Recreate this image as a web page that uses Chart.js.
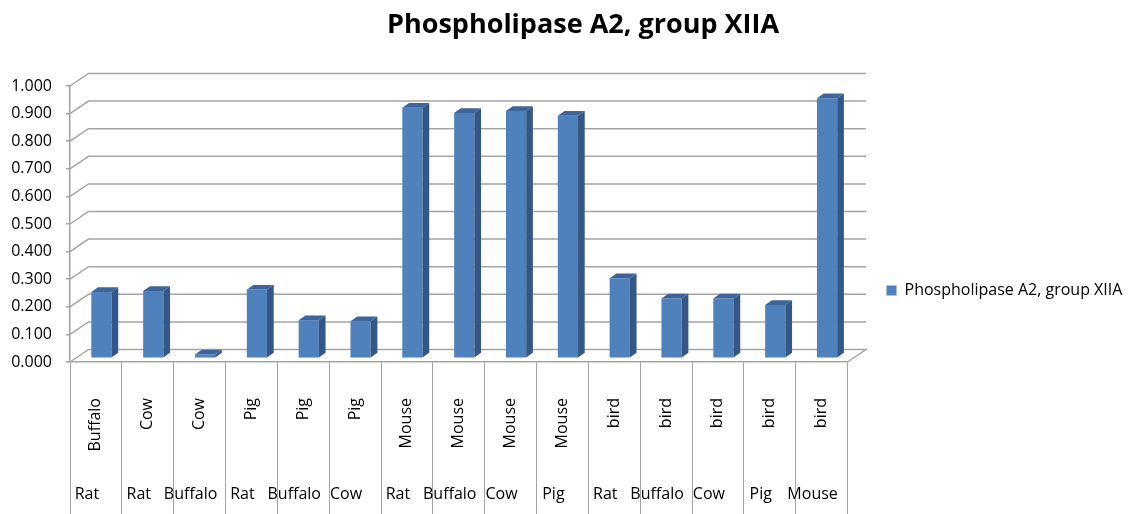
<!DOCTYPE html>
<html>
  <head>
    <script src="https://cdn.jsdelivr.net/npm/chart.js"></script>
    <title>Phospholipase A2, group XIIA</title>
    <style>
      body { margin: 0; background: #ffffff; }
      #grafico { display: block; }
    </style>
  </head>
  <body>
    <canvas id="grafico" width="1130" height="514"></canvas>
    <script>
      // datos
      const especie = ["Buffalo", "Cow", "Cow", "Pig", "Pig", "Pig", "Mouse", "Mouse", "Mouse", "Mouse", "bird", "bird", "bird", "bird", "bird"];
      const comparada = ["Rat", "Rat", "Buffalo", "Rat", "Buffalo", "Cow", "Rat", "Buffalo", "Cow", "Pig", "Rat", "Buffalo", "Cow", "Pig", "Mouse"];
      const valores = [0.240, 0.244, 0.014, 0.249, 0.138, 0.134, 0.908, 0.889, 0.896, 0.879, 0.290, 0.217, 0.217, 0.193, 0.942];
      const titulo = "Phospholipase A2, group XIIA";

      const FUENTE = "'Open Sans', 'Noto Sans', sans-serif";
      const GRIS = "#a5a5a5";

      // profundidad del "3D"
      const FONDO_X = 18.5, FONDO_Y = -12.5;   // pared del fondo
      const BARRA_X = 5.5, BARRA_Y = -3.7;     // las barras van a media profundidad
      const LADO_X = 6.7, LADO_Y = -4.7;       // grosor de cada barra

      const efecto3d = {
        id: "efecto3d",
        afterLayout(chart) {
          // el titulo de excel queda algo corrido a la derecha
          chart.titleBlock.left += 18;
          chart.titleBlock.right += 18;
        },
        beforeDatasetsDraw(chart) {
          const { ctx, chartArea: a } = chart;
          const y = chart.scales.y;
          ctx.save();
          ctx.strokeStyle = GRIS;
          ctx.lineWidth = 1.5;
          y.ticks.forEach((t) => {
            const py = y.getPixelForValue(t.value);
            ctx.beginPath();
            ctx.moveTo(a.left, py);
            ctx.lineTo(a.left + FONDO_X, py + FONDO_Y);
            ctx.lineTo(a.right + FONDO_X, py + FONDO_Y);
            if (t.value === 0) ctx.lineTo(a.right, py);
            ctx.stroke();
          });
          ctx.restore();
          ctx.save();
          ctx.translate(BARRA_X, BARRA_Y);
        },
        afterDatasetsDraw(chart) {
          const { ctx } = chart;
          chart.getDatasetMeta(0).data.forEach((bar) => {
            const { x, y, base, width } = bar.getProps(["x", "y", "base", "width"], true);
            const izq = x - width / 2;
            const der = x + width / 2;
            // cara lateral
            ctx.fillStyle = "#345787";
            ctx.beginPath();
            ctx.moveTo(der, y);
            ctx.lineTo(der + LADO_X, y + LADO_Y);
            ctx.lineTo(der + LADO_X, base + LADO_Y);
            ctx.lineTo(der, base);
            ctx.closePath();
            ctx.fill();
            // cara de arriba
            ctx.fillStyle = "#3d659b";
            ctx.beginPath();
            ctx.moveTo(izq, y);
            ctx.lineTo(izq + LADO_X, y + LADO_Y);
            ctx.lineTo(der + LADO_X, y + LADO_Y);
            ctx.lineTo(der, y);
            ctx.closePath();
            ctx.fill();
          });
          ctx.restore();
        }
      };

      const grafico = new Chart(document.getElementById("grafico"), {
        type: "bar",
        data: {
          labels: especie,
          datasets: [
            {
              label: titulo,
              data: valores,
              backgroundColor: "#4f81bd",
              borderWidth: 0,
              barPercentage: 0.39,
              categoryPercentage: 1,
              clip: false
            }
          ]
        },
        options: {
          responsive: false,
          animation: false,
          layout: { padding: { left: 0, right: 0, top: 0, bottom: 0 } },
          plugins: {
            tooltip: { enabled: false },
            title: {
              display: true,
              text: titulo,
              color: "#000000",
              font: { family: FUENTE, size: 27, weight: "bold" },
              padding: { top: 9, bottom: 44.6 }
            },
            legend: {
              position: "right",
              title: { display: true, text: "", padding: { top: 33, bottom: 33 }, font: { size: 1 } },
              labels: {
                boxWidth: 10,
                boxHeight: 10,
                padding: 39,
                color: "#000000",
                font: { family: FUENTE, size: 16 }
              }
            }
          },
          scales: {
            x: {
              weight: 0,
              offset: true,
              grid: { offset: true, drawOnChartArea: false, tickLength: 103, color: GRIS, lineWidth: 1 },
              border: { display: true, color: GRIS, width: 1.5 },
              ticks: {
                autoSkip: false,
                minRotation: 90,
                maxRotation: 90,
                padding: -67,
                color: "#000000",
                font: { family: FUENTE, size: 16 }
              },
              afterFit: (s) => { s.height = 103; }
            },
            x2: {
              type: "category",
              position: "bottom",
              weight: 1,
              labels: comparada,
              offset: true,
              grid: { offset: true, drawOnChartArea: false, tickLength: 49, color: GRIS, lineWidth: 1 },
              border: { display: false },
              ticks: {
                autoSkip: false,
                maxRotation: 0,
                padding: -29,
                labelOffset: -9,
                color: "#000000",
                font: { family: FUENTE, size: 16 }
              },
              afterFit: (s) => { s.height = 49; }
            },
            y: {
              min: 0,
              max: 1,
              grid: { drawOnChartArea: false, tickLength: 4, color: GRIS, lineWidth: 1.5 },
              border: { display: true, color: GRIS, width: 1.5 },
              ticks: {
                stepSize: 0.1,
                padding: 14,
                color: "#000000",
                font: { family: FUENTE, size: 16 },
                callback: (v) => Number(v).toFixed(3)
              },
              afterFit: (s) => { s.width = 70; }
            }
          }
        },
        plugins: [efecto3d]
      });
    </script>
  </body>
</html>
